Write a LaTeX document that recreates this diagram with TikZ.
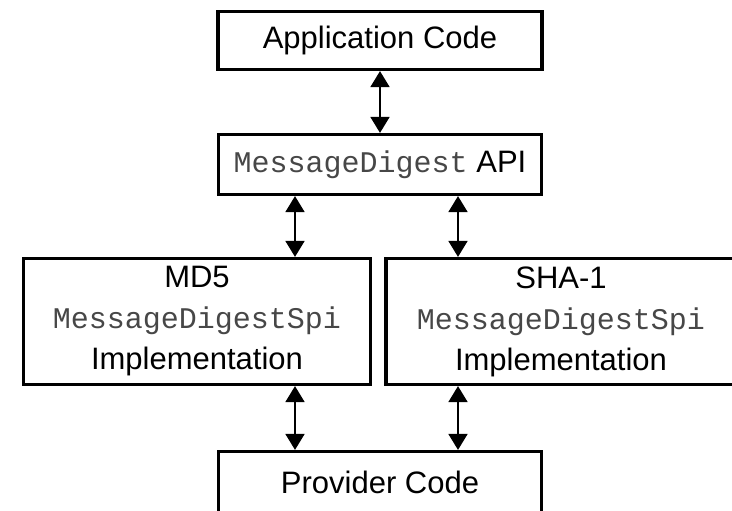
\documentclass[tikz,border=0pt]{standalone}
\usepackage{fontspec}
\setmainfont{Liberation Sans}
\setmonofont{Liberation Mono}
\usetikzlibrary{arrows.meta}

\tikzset{
  box/.style={draw, line width=3.2pt, inner sep=0pt, align=center,
    font={\fontsize{31}{41}\selectfont}},
  link/.style={line width=1.8pt, {Triangle[length=16pt,width=19pt]}-{Triangle[length=16pt,width=19pt]}},
}
\newcommand{\code}[1]{{\fontsize{30}{41}\selectfont\ttfamily\color{black!72}#1}}

\begin{document}
\begin{tikzpicture}[x=1pt, y=-1pt]
  \useasboundingbox (0,0) rectangle (732,511);

  % layers of the stack
  \node[box, minimum width=324pt, minimum height=58pt] (app) at (380,40.5) {Application Code};
  \node[box, minimum width=323pt, minimum height=60pt] (api) at (380,164.5) {\code{MessageDigest} API};
  \node[box, minimum width=347pt, minimum height=126pt] (md5) at (197,321.5)
    {MD5\\\code{MessageDigestSpi}\\Implementation};
  \node[box, minimum width=350pt, minimum height=126pt] (sha) at (561,321.5)
    {SHA-1\\\code{MessageDigestSpi}\\Implementation};
  \node[box, minimum width=323pt, minimum height=62pt] (prov) at (380,482.5) {Provider Code};

  % columns of the vertical links
  \coordinate (lcol) at (295,0);
  \coordinate (rcol) at (458,0);

  \draw[link] (app.south) -- (api.north);
  \draw[link] (lcol |- api.south) -- (lcol |- md5.north);
  \draw[link] (rcol |- api.south) -- (rcol |- sha.north);
  \draw[link] (lcol |- md5.south) -- (lcol |- prov.north);
  \draw[link] (rcol |- sha.south) -- (rcol |- prov.north);
\end{tikzpicture}
\end{document}
